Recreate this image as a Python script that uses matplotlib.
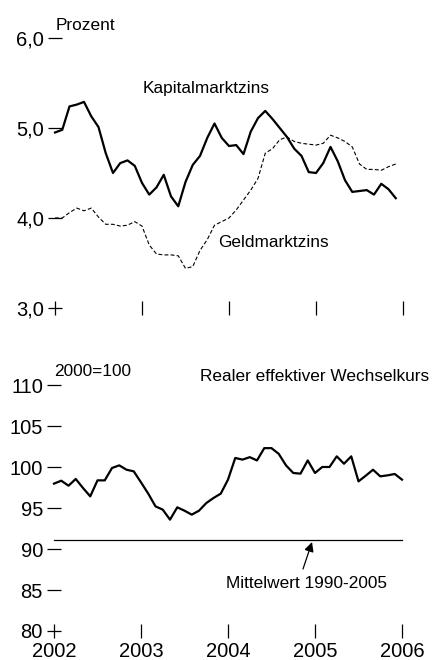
import numpy as np
import pandas as pd
import matplotlib
matplotlib.use("Agg")
import matplotlib.pyplot as plt

plt.rcParams['font.family'] = ['Liberation Sans Narrow', 'Liberation Sans', 'DejaVu Sans']
plt.rcParams['font.size'] = 14.5

# monthly data, Jan 2002 ...
kapital = [4.95, 4.98, 5.24, 5.26, 5.29, 5.13, 5.01, 4.72, 4.50, 4.61, 4.64, 4.58,
           4.39, 4.26, 4.34, 4.48, 4.24, 4.13, 4.40, 4.59, 4.69, 4.89, 5.05, 4.89,
           4.80, 4.81, 4.71, 4.96, 5.11, 5.19, 5.10, 5.00, 4.90, 4.77, 4.69, 4.51,
           4.50, 4.61, 4.79, 4.63, 4.42, 4.29, 4.30, 4.31, 4.26, 4.38, 4.32, 4.22]

geld = [4.00, 4.00, 4.06, 4.11, 4.08, 4.11, 4.01, 3.93, 3.93, 3.91, 3.92, 3.96,
        3.91, 3.70, 3.60, 3.59, 3.59, 3.58, 3.44, 3.46, 3.64, 3.76, 3.92, 3.96,
        4.00, 4.09, 4.20, 4.31, 4.44, 4.72, 4.77, 4.87, 4.90, 4.85, 4.83, 4.82,
        4.81, 4.83, 4.92, 4.89, 4.85, 4.79, 4.60, 4.54, 4.54, 4.53, 4.57, 4.60]

wechselkurs = [97.97, 98.33, 97.72, 98.54, 97.44, 96.42, 98.37, 98.37, 99.88, 100.2, 99.67, 99.47,
               98.13, 96.75, 95.2, 94.8, 93.58, 95.08, 94.67, 94.19, 94.67, 95.6, 96.22, 96.75,
               98.46, 101.1, 100.9, 101.2, 100.8, 102.3, 102.3, 101.6, 100.2, 99.27, 99.19, 100.8,
               99.27, 100.0, 100.0, 101.3, 100.4, 101.3, 98.25, 98.94, 99.67, 98.86, 98.98, 99.15,
               98.46]

mittelwert = 91.1

years = [2002, 2003, 2004, 2005, 2006]
zins_ticks = [3.0, 4.0, 5.0, 6.0]
zins_labels = ["3,0", "4,0", "5,0", "6,0"]
wk_ticks = [80, 85, 90, 95, 100, 105, 110]

dates = pd.date_range("2002-01-01", periods=49, freq="MS")
t = (dates.year + (dates.month - 1) / 12).to_numpy()

fig = plt.figure(figsize=(4.34, 6.6), dpi=100)

W, H = 434, 660
ax1 = fig.add_axes([55 / W, 1 - 308 / H, 348 / W, 270 / H])
ax2 = fig.add_axes([54 / W, 1 - 631 / H, 348 / W, 246 / H])

for ax in (ax1, ax2):
    for s in ax.spines.values():
        s.set_visible(False)
    ax.set_xlim(2002, 2006)
    ax.set_xticks(years)
    ax.tick_params(direction='inout', length=10, width=0.9, color='black',
                   pad=3, labelsize=14.5)

LBL = 12.4

# -------------------------------
# ZINSEN
# -------------------------------
ax1.plot(t[:48], kapital, color='black', lw=1.6, clip_on=False)
ax1.plot(t[:48], geld, color='black', lw=0.8, ls=(0, (3.5, 2)), clip_on=False)
ax1.set_ylim(3, 6)
ax1.set_yticks(zins_ticks)
ax1.set_yticklabels(zins_labels)
ax1.set_xticklabels([])

ax1.text(2002.01, 6.14, "Prozent", va='center', ha='left', fontsize=LBL)
ax1.text(2003.01, 5.44, "Kapitalmarktzins", va='center', ha='left', fontsize=LBL)
ax1.text(2003.87, 3.73, "Geldmarktzins", va='center', ha='left', fontsize=LBL)

# -------------------------------
# WECHSELKURS
# -------------------------------
ax2.plot(t, wechselkurs, color='black', lw=1.6, clip_on=False)
ax2.plot([2002, 2006], [mittelwert, mittelwert], color='black', lw=0.9, clip_on=False)
ax2.set_ylim(80, 110)
ax2.set_yticks(wk_ticks)
ax2.set_xticklabels([str(y) for y in years])

ax2.text(2002.0, 111.6, "2000=100", va='center', ha='left', fontsize=LBL)
ax2.text(2003.68, 111.0, "Realer effektiver Wechselkurs", va='center', ha='left', fontsize=LBL)
ax2.text(2004.90, 85.75, "Mittelwert 1990-2005", va='center', ha='center', fontsize=LBL)
ax2.annotate("", xy=(2004.966, 90.85), xytext=(2004.862, 87.56),
             arrowprops=dict(arrowstyle='-|>', color='black', lw=0.9,
                             mutation_scale=14, shrinkA=0, shrinkB=0))

fig.savefig("out.png", dpi=100)
